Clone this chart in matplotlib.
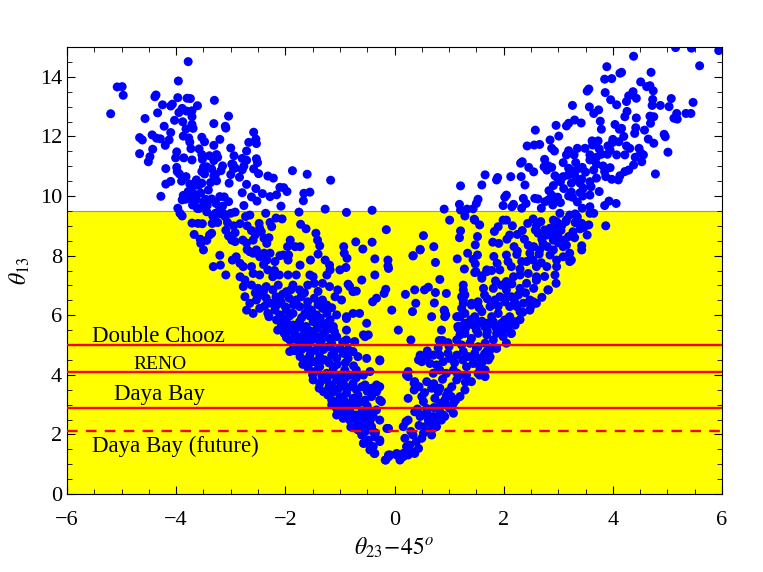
import matplotlib
matplotlib.use("Agg")
import matplotlib.pyplot as plt
import numpy as np
from matplotlib.ticker import MultipleLocator

plt.rcParams['font.family'] = 'serif'
plt.rcParams['font.serif'] = ['Liberation Serif', 'DejaVu Serif']
plt.rcParams['mathtext.fontset'] = 'stix'
plt.rcParams['axes.unicode_minus'] = True

# ---- data: (theta23 - 45, theta13) points ----
left_upper = [
(-3.78,14.51),(-5.08,13.66),(-4.99,13.67),(-4.97,13.38),(-5.20,12.76),(-3.96,13.86),(-4.39,13.33),(-4.37,13.39),
(-3.97,13.30),(-3.80,13.28),(-3.74,13.27),(-3.30,13.21),(-4.07,13.08),(-4.10,13.02),(-4.25,13.06),(-3.61,13.03),
(-3.89,12.94),(-3.81,12.85),(-3.71,12.86),(-3.71,12.66),(-3.95,12.80),(-4.34,12.79),(-4.57,12.60),(-4.03,12.54),
(-3.88,12.49),(-3.31,12.43),(-3.04,12.68),(-3.71,12.40),(-3.69,12.27),(-4.22,12.34),(-3.82,12.25),(-3.10,12.34),
(-3.09,12.28),(-4.44,12.05),(-4.36,11.94),(-4.29,11.92),(-4.67,11.96),(-4.62,11.88),(-4.10,12.13),(-4.13,11.88),
(-3.87,12.01),(-3.77,11.95),(-3.75,11.81),(-3.73,11.59),(-3.53,11.97),(-3.48,11.82),(-4.20,11.70),(-3.99,11.48),
(-4.01,11.28),(-4.67,11.42),(-4.43,11.57),(-4.48,11.32),(-4.51,11.15),(-3.31,11.70),(-3.20,11.90),(-3.00,11.61),
(-3.58,11.58),(-3.53,11.39),(-3.52,11.23),(-3.39,11.35),(-3.26,11.39),(-3.24,11.30),(-3.86,11.28),(-3.71,11.21),
(-3.31,11.19),(-2.94,11.35),(-2.96,11.06),(-2.92,10.94),(-2.79,11.26),(-2.71,11.20),(-2.76,11.00),(-2.79,10.88),
(-2.58,12.14),(-2.54,11.91),(-2.53,11.76),(-2.67,11.80),(-2.71,11.51),(-2.53,11.25),(-2.51,11.12),(-4.19,10.92),
(-3.99,10.96),(-3.98,10.82),(-3.94,10.74),(-3.82,10.65),(-3.50,10.96),(-3.44,10.98),(-3.53,10.82),(-3.48,10.74),
(-3.63,10.54),(-3.58,10.37),(-3.53,10.43),(-3.35,10.91),(-3.31,10.67),(-3.28,10.72),(-3.26,10.51),(-3.37,10.45),
(-3.41,10.20),(-3.15,11.01),(-3.18,10.85),(-2.98,11.07),(-2.95,10.92),(-3.00,10.72),(-3.03,10.43),(-2.84,10.63),
(-2.79,10.11),(-2.71,10.39),(-2.54,10.25),(-2.49,10.75),(-2.58,10.91),(-2.32,10.67),(-2.22,10.60),(-2.42,10.08),
(-2.28,9.98),(-2.16,10.04),(-2.10,10.29),(-2.03,10.28),(-1.97,10.15),(-2.08,9.66),(-1.87,10.85),(-1.60,10.73),
(-1.66,10.09),(-1.55,10.13),(-1.67,9.84),(-1.17,10.53),(-4.28,9.99),(-4.19,10.40),(-4.10,10.49),(-3.87,10.02),
(-3.89,9.87),(-3.83,9.89),(-3.78,10.15),(-3.72,10.31),(-3.64,10.36),(-3.67,10.06),(-3.63,9.87),(-3.61,9.58),
(-3.76,9.92),(-3.46,9.89),(-3.43,9.69),(-3.27,9.75),(-3.20,9.98),(-3.12,9.97),(-3.15,9.66),(-3.04,9.81),
(-2.76,9.68),(-2.62,9.97),(-2.52,9.83),(-3.97,9.59),(-3.93,9.42),(-3.58,9.58),(-3.47,9.64),(-3.44,9.47),
(-1.75,9.46),(-1.27,9.56),(-0.88,9.45),(-0.41,9.52),
(-3.90,10.50),(-3.75,10.40),(-3.55,10.10),(-3.70,9.70),(-3.50,9.80),(-3.35,9.90),(-3.20,9.60),
]

left_middle = [
(-3.89,9.33),(-3.71,9.09),(-3.60,9.08),(-3.52,9.07),(-3.67,8.71),(-3.56,8.55),(-3.55,8.41),(-3.50,8.19),
(-3.44,8.51),(-3.34,9.08),(-3.35,8.75),(-3.39,8.69),(-3.33,9.33),(-3.28,9.42),(-3.24,9.11),(-3.18,9.40),
(-3.14,9.42),(-3.06,9.11),(-3.00,9.42),(-2.92,9.46),(-3.09,8.85),(-3.04,8.66),(-2.98,8.52),(-2.92,8.77),
(-2.92,8.47),(-2.83,9.07),(-2.73,9.31),(-2.65,9.36),(-2.78,8.52),(-2.71,8.42),(-2.59,8.52),(-2.62,8.84),
(-2.48,9.08),(-2.47,8.92),(-2.44,8.80),(-2.36,9.42),(-2.28,9.11),(-2.25,8.97),(-2.17,9.26),(-2.06,9.23),
(-2.39,8.58),(-2.34,8.41),(-2.39,8.08),(-2.53,8.19),(-2.65,8.13),(-2.59,8.08),(-2.47,7.96),(-2.34,7.85),
(-2.28,8.08),(-2.90,7.96),(-2.97,7.85),(-2.83,7.74),(-2.77,7.63),(-2.62,7.63),(-2.19,7.80),(-2.04,8.02),
(-1.95,7.85),(-1.94,8.02),(-1.91,8.52),(-1.96,8.30),(-1.82,8.30),(-1.73,8.30),(-1.72,9.05),(-1.62,8.90),
(-1.44,8.75),(-1.41,8.52),(-1.37,8.33),(-1.40,8.05),(-1.54,7.85),(-1.27,7.85),(-1.19,7.68),(-0.93,8.30),
(-0.92,8.08),(-0.87,7.91),(-0.71,8.46),(-0.58,8.22),(-0.41,8.45),(-0.36,7.89),(-0.15,8.87),(-0.12,7.85),
(-1.73,7.68),(-3.32,7.63),(-3.20,8.01),(-3.19,7.68),
(-3.30,9.25),(-3.10,9.30),(-2.95,9.00),(-2.70,9.00),(-2.55,8.70),(-2.30,8.60),(-2.10,8.00),(-2.20,7.50),
(-2.40,7.70),(-2.70,8.20),
]

left_lower = [
(-3.09,7.35),(-2.83,7.29),(-2.74,7.18),(-2.59,7.40),(-2.47,7.35),(-2.32,7.52),(-2.23,7.29),(-2.11,7.35),
(-1.95,7.35),(-1.80,7.35),(-1.55,7.35),(-1.49,7.29),(-1.24,7.35),(-1.18,7.52),(-1.00,7.52),(-0.60,7.18),
(-0.36,7.35),(-0.11,7.57),(-2.77,6.96),(-2.62,7.01),(-2.50,6.90),(-2.35,6.96),(-2.23,6.85),(-2.13,7.01),
(-1.98,6.79),(-1.86,7.01),(-1.74,6.85),(-1.59,7.01),(-1.47,7.07),(-1.32,7.07),(-1.19,6.96),(-1.04,6.85),
(-0.82,6.96),(-0.76,6.79),(-2.74,6.62),(-2.65,6.40),(-2.53,6.51),(-2.44,6.68),(-2.35,6.57),(-2.26,6.40),
(-2.17,6.62),(-2.08,6.45),(-1.93,6.57),(-1.80,6.51),(-1.71,6.62),(-1.59,6.45),(-1.47,6.57),(-1.32,6.51),
(-1.24,6.34),(-1.09,6.62),(-0.97,6.51),(-0.40,6.45),(-0.19,6.73),(-0.05,6.17),(-2.71,6.17),(-2.59,6.06),
(-2.47,6.23),(-2.32,6.06),(-2.19,6.17),(-2.10,6.01),(-1.98,6.17),(-1.86,6.06),(-1.74,6.29),(-1.64,6.06),
(-1.52,6.17),(-1.43,6.01),(-1.32,6.23),(-1.24,6.06),(-1.06,6.01),(-0.88,5.89),(-0.76,6.06),(-0.64,6.06),
(-0.51,5.73),(0.07,5.50),(-2.16,5.84),(-2.07,5.67),(-1.98,5.78),(-1.86,5.67),(-1.74,5.78),(-1.62,5.62),
(-1.49,5.78),(-1.37,5.67),(-1.24,5.73),(-1.12,5.62),(-2.14,5.50),(-2.02,5.39),(-1.86,5.45),(-1.77,5.28),
(-1.65,5.39),(-1.52,5.45),(-1.43,5.28),(-1.30,5.39),(-1.19,5.22),(-1.06,5.28),(-0.88,5.17),(-0.73,5.11),
(-0.57,5.34),(-1.92,5.17),(-1.74,5.06),(-1.55,5.11),(-1.37,5.00),(-1.22,4.94),(-1.00,4.89),(-1.92,4.78),
(-1.83,4.81),(-1.73,4.61),(-1.64,4.50),(-1.55,4.66),(-1.46,4.44),(-1.37,4.61),(-1.28,4.50),(-1.15,4.66),
(-1.06,4.55),(-0.94,4.72),(-0.85,4.55),(-0.76,4.78),(-0.67,4.61),(-0.51,4.55),(-0.27,4.50),(-1.58,4.22),
(-1.46,4.11),(-1.37,4.27),(-1.24,4.05),(-1.12,4.22),(-1.00,3.99),(-0.91,4.16),(-0.82,3.99),(-0.70,4.16),
(-0.57,3.99),(-0.45,4.11),(-1.49,3.83),(-1.37,3.71),(-1.24,3.83),(-1.15,3.66),(-1.06,3.83),(-0.94,3.71),
(-0.85,3.55),(-0.76,3.71),(-0.60,3.60),(-0.54,3.66),(-0.42,3.55),(-0.33,3.43),(-0.27,3.60),(-1.30,3.43),
(-1.22,3.32),(-1.12,3.43),(-1.00,3.27),(-0.88,3.38),(-0.76,3.21),(-0.67,3.32),(-0.54,3.15),(-0.42,3.27),
(-0.27,3.15),(-1.15,2.99),(-1.06,2.87),(-0.94,2.93),(-0.82,2.82),(-0.70,2.99),(-0.60,2.76),(-0.45,2.71),
(-0.33,2.82),(-1.06,2.65),(-0.94,2.54),(-0.82,2.48),(-0.73,2.37),(-0.64,2.54),(-0.51,2.37),(-0.39,2.60),
(-0.27,2.48),(-0.11,2.20),(-0.67,2.15),(-0.54,2.09),(-0.42,2.26),(-0.60,1.98),(-0.48,1.81),(-0.36,1.92),
(-0.27,1.76),(-0.57,1.70),(-0.39,1.59),(-0.36,1.36),(-0.45,1.48),(-0.17,1.14),(-0.11,1.25),(0.04,1.36),
(-0.27,1.81),(-0.39,2.09),(-0.45,1.64),(-0.37,1.36),(-0.56,1.70),(-0.14,2.20),(-0.16,1.14),(-0.11,1.31),
(-0.48,5.34),(-0.27,4.47),(-0.33,3.66),(-0.30,3.55),(-0.24,3.10),(-0.88,5.50),(-0.54,5.28),(-0.73,5.11),
(0.30,5.17),(0.44,4.50),(0.22,3.99),(0.36,3.71),(0.25,3.21),
]

left_lower_dense = [
(-2.55,6.75),(-2.40,6.80),(-2.05,6.70),(-1.90,6.85),(-1.65,6.75),(-1.40,6.80),
(-2.38,6.30),(-2.15,6.35),(-2.00,6.28),(-1.85,6.35),(-1.60,6.30),(-1.40,6.35),(-1.15,6.25),
(-2.30,5.95),(-2.05,5.90),(-1.92,5.98),(-1.70,5.92),(-1.55,5.97),(-1.36,5.90),(-1.18,5.85),
(-2.05,5.60),(-1.95,5.50),(-1.80,5.55),(-1.68,5.58),(-1.58,5.50),(-1.42,5.55),(-1.25,5.50),(-1.10,5.45),
(-1.98,5.25),(-1.85,5.20),(-1.68,5.15),(-1.60,5.25),(-1.48,5.20),(-1.34,5.15),(-1.15,5.05),(-0.95,5.10),
(-1.85,4.90),(-1.70,4.85),(-1.58,4.90),(-1.45,4.82),(-1.30,4.85),(-1.10,4.80),(-0.85,4.85),
(-1.68,4.35),(-1.55,4.40),(-1.40,4.35),(-1.20,4.40),(-1.05,4.35),(-0.90,4.40),(-0.75,4.30),
(-1.50,4.00),(-1.33,3.95),(-1.18,4.00),(-1.05,3.92),(-0.90,3.90),(-0.70,3.90),
(-1.38,3.55),(-1.20,3.60),(-1.02,3.55),(-0.90,3.60),(-0.70,3.50),(-0.50,3.45),
(-1.15,3.15),(-1.05,3.10),(-0.92,3.12),(-0.80,3.05),(-0.62,3.08),(-0.50,2.95),
(-0.98,2.75),(-0.88,2.65),(-0.72,2.65),(-0.55,2.60),(-0.45,2.45),
(-0.80,2.25),(-0.62,2.30),(-0.50,2.20),(-0.35,2.05),
]

right_upper = [
(5.15,14.98),(5.44,14.96),(5.94,14.88),(4.38,14.69),(5.59,14.37),(3.89,14.34),(4.16,14.15),(4.13,14.12),
(4.70,14.15),(3.85,13.92),(3.98,13.94),(3.56,13.59),(3.53,13.52),(4.51,13.83),(4.62,13.67),(4.68,13.70),
(4.74,13.53),(4.37,13.50),(4.29,13.36),(4.43,13.28),(3.86,13.47),(3.96,13.23),(4.25,13.17),(4.73,13.24),
(5.07,13.27),(5.47,13.14),(4.87,13.04),(4.72,13.04),(5.03,13.00),(3.26,13.04),(3.57,12.99),(3.65,12.77),
(3.74,12.89),(4.07,13.06),(4.26,12.84),(4.22,12.66),(4.43,12.62),(4.68,12.68),(4.75,12.66),(4.69,12.44),
(5.17,12.77),(5.12,12.61),(5.18,12.58),(5.34,12.77),(5.43,12.77),(3.77,12.51),(3.30,12.55),(3.42,12.45),
(3.15,12.35),(3.19,12.44),(2.96,12.37),(2.58,12.21),(3.79,12.24),(4.04,12.40),(4.16,12.27),(4.12,12.24),
(4.42,12.29),(4.58,12.21),(4.94,12.07),(4.96,11.99),(4.65,11.91),(4.75,11.77),(5.01,11.47),(4.78,10.74),
(3.01,12.01),(2.85,11.88),(2.88,11.60),(2.93,11.51),(2.43,11.68),(2.56,11.71),(2.66,11.73),(3.19,11.52),
(3.35,11.60),(3.49,11.60),(3.62,11.85),(3.63,11.71),(3.73,11.85),(3.75,11.58),(3.79,11.40),(3.91,11.68),
(3.99,11.79),(4.11,11.82),(3.95,11.54),(4.07,11.38),(4.25,11.68),(4.22,11.38),(4.31,11.60),(4.48,11.60),
(4.51,11.45),(4.56,11.38),(4.41,11.30),(4.53,11.15),(4.38,11.04),(4.29,10.87),(4.22,10.82),(3.15,11.38),
(3.09,11.12),(3.29,11.38),(3.32,11.12),(3.19,10.93),(3.26,10.84),(3.37,10.92),(3.44,10.96),(3.58,11.38),
(3.58,11.21),(3.70,11.07),(3.65,10.87),(3.82,11.01),(3.95,10.95),(3.85,10.82),(3.87,10.65),(3.98,10.56),
(4.13,10.68),(4.10,10.54),(2.75,11.23),(2.74,10.98),(2.82,11.01),(2.88,10.96),(2.79,10.87),(2.31,11.10),
(2.34,11.15),(2.46,10.96),(2.55,10.81),(2.94,10.68),(2.99,10.59),(3.04,10.48),(3.09,10.65),(3.18,10.70),
(3.24,10.43),(3.33,10.54),(3.43,10.57),(3.40,10.43),(3.58,10.48),(3.46,10.26),(3.60,10.31),(3.75,10.15),
(3.58,10.03),(3.40,10.11),(3.24,10.13),(3.19,10.00),(3.26,9.96),(2.91,10.35),(2.83,10.18),(2.88,10.03),
(2.82,9.87),(2.89,9.83),(2.99,9.96),(3.04,9.78),(2.76,9.81),(2.57,9.92),(2.63,9.90),(2.69,9.59),
(2.36,9.92),(2.41,9.75),(2.33,9.59),(2.13,10.65),(2.32,10.65),(2.39,10.37),(1.89,10.62),(1.87,10.54),
(1.66,10.71),(1.60,10.37),(1.21,10.34),(2.05,10.03),(2.02,9.96),(1.99,9.68),(2.18,9.72),(2.15,9.64),
(1.53,9.89),(1.50,9.75),(1.19,9.72),(1.21,9.53),(1.33,9.56),(1.44,9.57),(0.91,9.56),(3.44,9.59),
(3.58,9.64),(3.85,9.68),(3.93,9.83),(4.06,9.75),(3.65,9.42),
(2.90,9.70),(3.10,10.25),(3.30,10.70),(3.50,10.80),(3.70,11.30),(3.90,11.40),(4.00,11.90),(3.45,10.00),
(3.70,10.60),(3.35,9.80),(4.20,12.00),(4.40,12.10),
]

right_middle = [
(1.01,9.19),(1.21,8.83),(1.19,8.60),(0.53,8.67),(0.47,8.19),(0.34,8.00),(0.72,8.30),(0.75,7.77),
(1.15,7.89),(1.34,8.08),(1.44,7.87),(1.48,7.72),(1.52,8.02),(1.48,8.36),(1.52,8.64),(1.56,9.03),
(1.47,9.19),(1.83,8.81),(1.80,8.45),(1.91,8.41),(1.99,9.19),(2.05,9.19),(1.90,8.97),(2.16,9.00),
(2.11,8.69),(2.06,8.55),(2.19,8.30),(2.24,8.04),(2.05,8.02),(2.08,7.80),(2.14,7.63),(1.82,7.97),
(1.88,7.74),(2.25,8.71),(2.34,8.84),(2.38,8.55),(2.44,9.08),(2.54,9.23),(2.58,8.86),(2.63,8.75),
(2.68,9.14),(2.75,8.86),(2.79,8.69),(2.85,8.92),(2.91,9.19),(2.97,9.14),(3.03,9.42),(2.94,8.92),
(2.99,8.71),(3.07,9.03),(3.14,9.14),(3.21,9.36),(3.31,9.40),(3.33,9.11),(3.43,9.08),(3.47,8.95),
(3.56,9.03),(3.53,8.69),(3.43,8.33),(3.31,9.11),(3.27,8.80),(3.19,8.64),(3.09,8.52),(3.09,8.30),
(3.00,8.43),(2.91,8.52),(2.91,8.19),(2.85,8.02),(2.97,7.85),(3.09,7.96),(3.21,8.08),(3.24,7.85),
(2.72,8.41),(2.66,8.19),(2.55,8.30),(2.48,8.08),(2.42,7.80),(2.54,7.85),(2.69,7.76),(2.79,7.63),
(2.60,7.63),(2.33,7.80),(1.93,7.52),(1.69,7.52),(3.87,9.00),(3.43,8.19),(3.58,9.42),
(-0.12,7.65),(-0.89,7.60),(-0.85,7.04),(-0.70,6.81),(-0.88,5.95),(-0.33,6.57),(-0.16,6.87),
(0.34,7.99),(0.47,8.21),(1.29,9.33),(1.46,9.22),(1.28,7.55),(1.47,7.43),(0.83,7.20),(0.75,6.76),
(0.62,6.94),(0.55,6.85),(0.37,6.85),(0.20,6.70),(0.39,6.40),(0.33,6.12),(0.73,6.41),(0.68,5.95),
(0.91,6.17),(0.94,6.01),(1.14,5.95),(1.23,6.23),(1.26,6.85),(1.29,6.68),(1.26,6.51),(1.20,5.95),
(1.16,5.62),(1.41,6.34),
(3.21,7.80),(2.97,7.63),(2.94,7.35),(2.81,6.85),(2.60,7.18),(2.54,6.45),(2.48,6.17),(2.17,5.78),
(2.14,5.39),(2.05,5.06),(1.87,4.89),(1.72,4.50),(1.66,3.94),(1.56,3.99),
(1.49,7.46),(1.60,7.32),(1.69,7.46),(1.78,7.50),(2.30,7.35),(2.60,7.29),(0.95,6.73),(1.26,7.01),
(1.60,7.24),(1.63,6.90),(1.81,6.90),(1.96,7.01),(2.05,7.13),(2.18,7.29),(2.30,6.90),(2.42,7.07),
(2.60,7.18),(2.82,6.85),(2.96,7.07),(2.05,6.85),(1.23,6.62),(1.26,6.40),(1.41,6.40),(1.53,6.45),
(1.65,6.68),(1.75,6.29),(1.84,6.51),(1.93,6.62),(2.02,6.45),(2.14,6.62),(2.27,6.68),(2.36,6.40),
(2.48,6.51),(2.60,6.40),(2.11,6.29),(2.24,6.29),(0.92,6.12),(0.92,5.95),(1.17,5.95),(1.29,6.06),
(1.29,5.73),(1.47,5.95),(1.60,6.12),(1.69,5.73),(1.78,5.95),(1.90,6.06),(2.02,5.84),(2.11,5.95),
(2.21,5.67),(2.30,6.12),(1.96,5.62),(1.65,5.62),(1.20,5.62),
]

right_middle_dense = [
(1.30,5.55),(1.50,5.50),(1.70,5.45),(1.85,5.60),(2.00,5.50),(2.10,5.65),(2.30,5.85),(1.40,5.85),(1.60,5.80),
(1.55,6.25),(1.70,6.55),(1.90,6.30),(2.05,6.60),(2.20,6.45),(2.40,6.75),(2.55,6.90),(2.70,6.60),(2.35,6.10),
(2.50,6.30),(2.75,7.30),(1.85,7.15),(2.15,7.05),(2.45,7.40),
(2.30,7.55),(2.50,7.90),(2.65,8.05),(2.80,8.30),(2.90,8.70),(3.05,8.85),(3.15,8.35),(3.30,8.60),(3.40,8.90),
(2.70,8.55),(2.45,8.35),(2.25,8.15),(3.15,9.20),(3.35,9.30),(2.60,9.00),
]

right_lower = [
(0.86,5.50),(0.82,5.15),(0.88,5.15),(0.98,5.08),(1.17,5.56),(1.20,5.34),(1.32,5.73),(1.44,5.67),
(1.56,5.75),(1.69,5.62),(1.81,5.78),(1.96,5.73),(2.08,5.78),(2.20,5.78),(1.29,5.39),(1.41,5.22),
(1.53,5.39),(1.69,5.34),(1.87,5.39),(1.99,5.28),(2.14,5.39),(1.14,5.17),(1.23,5.00),(1.38,5.06),
(1.53,4.94),(1.66,5.06),(1.75,4.83),(1.87,4.89),(1.81,5.17),(0.47,4.66),(0.59,4.61),(0.71,4.66),
(0.50,4.44),(0.65,4.38),(0.77,4.33),(0.89,4.44),(0.83,4.66),(0.98,4.72),(1.01,4.55),(1.14,4.66),
(1.26,4.78),(1.35,4.61),(1.47,4.72),(1.56,4.55),(1.69,4.78),(1.44,4.38),(1.32,4.27),(1.56,4.27),
(0.25,4.11),(0.25,3.94),(0.71,4.05),(0.83,4.16),(0.95,4.05),(1.08,4.16),(1.20,3.99),(1.14,3.83),
(1.32,3.99),(1.41,3.77),(1.53,4.05),(1.66,4.16),(0.37,3.77),(0.36,3.49),(0.59,3.77),(0.68,3.55),
(0.83,3.55),(0.80,3.43),(0.98,3.43),(0.92,3.15),(1.04,3.27),(1.20,3.27),(1.29,3.49),(0.50,3.27),
(0.53,3.10),(0.74,3.21),(0.83,3.04),(0.95,2.99),(1.08,3.04),(0.37,2.76),(0.50,2.65),(0.59,2.87),
(0.71,2.60),(0.83,2.76),(0.92,2.60),(1.01,2.87),(1.08,2.71),(0.25,2.48),(0.47,2.60),(0.16,2.26),
(0.21,2.43),(0.62,2.48),(0.68,2.32),(0.77,2.26),(0.86,2.48),(0.89,2.65),(0.19,1.87),(0.34,1.98),
(0.40,1.76),(0.28,1.64),(0.50,1.87),(0.53,2.04),(0.62,2.15),(0.68,1.98),(0.56,2.26),(0.22,1.59),
(0.31,1.42),(0.44,1.53),(0.37,1.36),(0.25,1.31),(0.16,1.25),(0.10,1.14),(0.04,1.31),(-0.08,1.31),
(0.16,1.36),
(0.30,2.10),(0.45,2.30),(0.60,2.70),(0.72,2.90),(0.42,2.85),(0.78,2.50),
(0.55,3.40),(0.72,3.70),(0.88,3.85),(1.05,3.60),(1.15,4.05),(0.95,3.30),(1.12,3.15),(1.30,3.75),(0.45,3.60),
(0.60,4.80),(0.80,4.90),(1.00,4.95),(1.10,4.40),(1.25,4.50),(1.45,4.55),(1.60,4.40),(1.75,4.60),(1.50,4.90),
(1.65,4.70),
]

hlines = [5.0, 4.08, 2.9]          # Double Chooz, RENO, Daya Bay
hline_future = 2.11                # Daya Bay (future)
allowed_top = 9.5
labels = ["Double Chooz", "RENO", "Daya Bay", "Daya Bay (future)"]
label_pos = [(-5.54, 5.11), (-4.79, 4.18), (-5.13, 3.15), (-5.54, 1.42)]
label_size = [16.5, 14, 16.5, 16.5]

pts = np.array(left_upper + left_middle + left_lower + left_lower_dense
               + right_upper + right_middle + right_middle_dense + right_lower)

fig = plt.figure(figsize=(7.63, 5.72), dpi=100)
ax = fig.add_axes([67/763, 1-494/572, 655/763, 447/572])

ax.axhspan(0, allowed_top, facecolor='#ffff00', edgecolor='#a0a060', linewidth=0.8, zorder=0)
ax.scatter(pts[:, 0], pts[:, 1], s=42, color='#0000ff', edgecolors='none', zorder=2)
for h in hlines:
    ax.axhline(h, color='#ff0000', lw=1.7, zorder=3)
ax.axhline(hline_future, color='#ff0000', lw=1.7, ls=(0, (4.5, 3.5)), zorder=3)

for t, (x, y), fs in zip(labels, label_pos, label_size):
    ax.text(x, y, t, fontsize=fs, ha='left', va='baseline', zorder=4)

ax.set_xlim(-6, 6)
ax.set_ylim(0, 15)
ax.xaxis.set_major_locator(MultipleLocator(2))
ax.xaxis.set_minor_locator(MultipleLocator(0.5))
ax.yaxis.set_major_locator(MultipleLocator(2))
ax.yaxis.set_minor_locator(MultipleLocator(0.5))
ax.tick_params(which='both', direction='in', top=True, right=True, labelsize=16)
ax.tick_params(which='major', length=6, width=0.8)
ax.tick_params(which='minor', length=3.5, width=0.6)
ax.tick_params(axis='x', pad=12)
for sp in ax.spines.values():
    sp.set_linewidth(0.8)

ax.set_xlabel(r'$\theta_{23}\!-\!45^{o}$', fontsize=17, labelpad=4)
ax.set_ylabel(r'$\theta_{13}$', fontsize=17, labelpad=6)

fig.savefig('out.png', dpi=100)
